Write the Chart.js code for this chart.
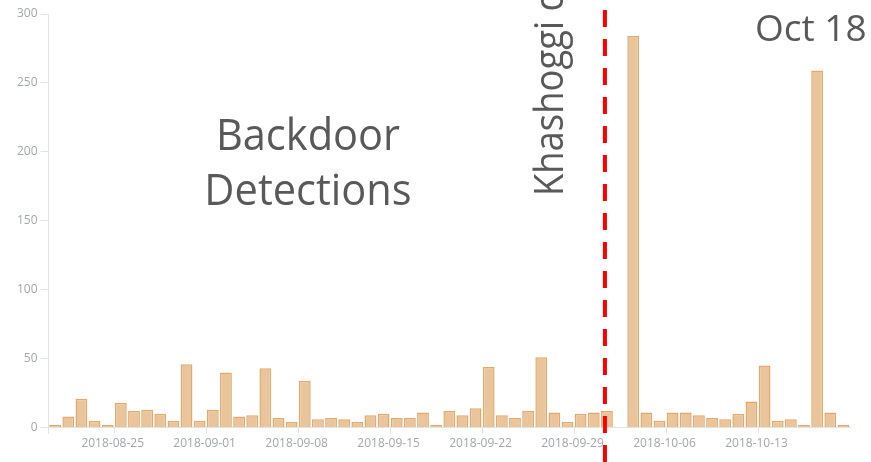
<!DOCTYPE html>
<html>
<head>
<meta charset="utf-8">
<script src="https://cdn.jsdelivr.net/npm/chart.js@4"></script>
<style>
  html, body { margin: 0; padding: 0; background: #fff; }
  #wrap { width: 871px; height: 462px; }
</style>
</head>
<body>
<div id="wrap"><canvas id="chart" width="871" height="462"></canvas></div>
<script>
// daily backdoor detections, 2018-08-21 .. 2018-10-20
const startDay = Date.UTC(2018, 7, 21);
const detections = [
    2, 8, 21, 5, 2, 18, 12, 13, 10, 5, 46, 5, 13, 40, 8, 9, 43, 7, 4, 34,
    6, 7, 6, 4, 9, 10, 7, 7, 11, 2, 12, 9, 14, 44, 9, 7, 12, 51, 11, 4,
    10, 11, 12, null, 284, 11, 5, 11, 11, 9, 7, 6, 10, 19, 45, 5, 6, 2, 259, 11, 2
];
const days = detections.map((_, i) => new Date(startDay + i * 86400000).toISOString().slice(0, 10));
const tickDates = ['2018-08-25', '2018-09-01', '2018-09-08', '2018-09-15', '2018-09-22', '2018-09-29', '2018-10-06', '2018-10-13'];
const yTicks = [0, 50, 100, 150, 200, 250, 300];
const eventDay = '2018-10-02';

const axisGray = '#e3e3e3';
const tickGray = '#a2a6ae';

// squeezed text, the slide font is narrower than Open Sans
function drawText(ctx, text, x, y, size, squeeze, align) {
    ctx.save();
    ctx.font = size + 'px "Open Sans"';
    ctx.textAlign = align;
    ctx.translate(x, y);
    ctx.scale(squeeze, 1);
    ctx.fillText(text, 0, 0);
    ctx.restore();
}

const overlay = {
    id: 'overlay',
    afterDraw(chart) {
        const { ctx } = chart;
        const x = chart.scales.x.getPixelForValue(days.indexOf(eventDay)) - 2;
        ctx.save();
        ctx.strokeStyle = '#ff0000';
        ctx.lineWidth = 4;
        ctx.setLineDash([17, 12]);
        ctx.beginPath();
        ctx.moveTo(x, 10);
        ctx.lineTo(x, chart.height);
        ctx.stroke();
        ctx.setLineDash([]);

        ctx.fillStyle = '#595959';
        ctx.textBaseline = 'alphabetic';
        drawText(ctx, 'Backdoor', 308, 150, 44, 0.945, 'center');
        drawText(ctx, 'Detections', 308, 205, 44, 0.945, 'center');
        drawText(ctx, 'Oct 18', 755, 41, 37, 1, 'left');

        ctx.translate(563, 196);
        ctx.rotate(-Math.PI / 2);
        drawText(ctx, 'Khashoggi death', 0, 0, 40, 0.91, 'left');
        ctx.restore();
    }
};

new Chart(document.getElementById('chart'), {
    type: 'bar',
    data: {
        labels: days,
        datasets: [{
            label: 'Backdoor Detections',
            data: detections,
            backgroundColor: '#eac59b',
            borderColor: '#e0aa6c',
            borderWidth: 1.5,
            barPercentage: 0.9,
            categoryPercentage: 1.0
        }]
    },
    options: {
        responsive: false,
        animation: false,
        layout: { padding: { left: 14, right: 21, top: 14, bottom: 8 } },
        plugins: {
            legend: { display: false },
            tooltip: { enabled: false }
        },
        scales: {
            x: {
                offset: true,
                border: { color: axisGray },
                grid: {
                    offset: true,
                    drawOnChartArea: false,
                    tickLength: 6,
                    color: c => (c.index === 0 || tickDates.includes(days[c.index - 1])) ? axisGray : 'rgba(0,0,0,0)'
                },
                ticks: {
                    autoSkip: false,
                    maxRotation: 0,
                    minRotation: 0,
                    labelOffset: 5,
                    padding: 3,
                    color: tickGray,
                    font: { family: 'Open Sans', size: 12 },
                    callback: (v, i) => tickDates.includes(days[i]) ? days[i] : ''
                }
            },
            y: {
                min: yTicks[0],
                max: yTicks[yTicks.length - 1],
                border: { color: axisGray },
                grid: { drawOnChartArea: false, tickLength: 8, color: axisGray },
                afterBuildTicks: axis => { axis.ticks = yTicks.map(v => ({ value: v })); },
                ticks: {
                    padding: 3,
                    color: tickGray,
                    font: { family: 'Open Sans', size: 12 }
                }
            }
        }
    },
    plugins: [overlay]
});
</script>
</body>
</html>
